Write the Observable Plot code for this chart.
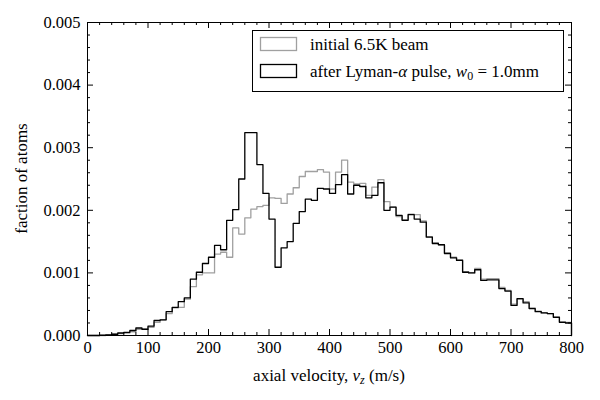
<!DOCTYPE html>
<html>
<head>
<meta charset="utf-8">
<script src="https://cdn.jsdelivr.net/npm/d3@7"></script>
<script src="https://cdn.jsdelivr.net/npm/@observablehq/plot@0.6"></script>
<style>
  html, body { margin: 0; padding: 0; background: #fff; }
  #chart svg { display: block; }
  #chart svg text, #chart svg tspan { font-family: 'Liberation Serif', 'DejaVu Serif', serif !important; }
  #chart svg g { font-variant: normal !important; font-variant-numeric: normal !important; }
</style>
</head>
<body>
<div id="chart"></div>
<script>
// Bin starts (m/s), bin width 10 m/s
const binStart = [0,10,20,30,40,50,60,70,80,90,100,110,120,130,140,150,160,170,180,190,
  200,210,220,230,240,250,260,270,280,290,300,310,320,330,340,350,360,370,380,390,
  400,410,420,430,440,450,460,470,480,490,500,510,520,530,540,550,560,570,580,590,
  600,610,620,630,640,650,660,670,680,690,700,710,720,730,740,750,760,770,780,790];
const binEnd = 800;

// initial 6.5K beam
const initialBeam = [0,0,0,0.00001,0.00002,0.00003,0.00004,0.00006,0.0001,0.0001,
  0.00013,0.00021,0.00025,0.00035,0.00044,0.00045,0.00058,0.00078,0.00097,0.001,
  0.001,0.0013,0.00133,0.00125,0.00172,0.00162,0.00188,0.00202,0.00206,0.00208,
  0.0022,0.00219,0.00211,0.00226,0.00236,0.00254,0.00262,0.00262,0.00265,0.00261,
  0.00234,0.00261,0.0028,0.00245,0.00242,0.00243,0.00224,0.00237,0.00249,0.00214,
  0.00205,0.0019,0.00185,0.00194,0.00193,0.00183,0.00158,0.00148,0.00145,0.00132,
  0.00125,0.00121,0.00102,0.001,0.00107,0.0009,0.00091,0.00091,0.00077,0.00072,
  0.0005,0.00058,0.00054,0.00044,0.00039,0.00036,0.00035,0.0003,0.00022,0.00021];

// after Lyman-alpha pulse, w0 = 1.0mm
const afterPulse = [0,0,0.000005,0.00001,0.00002,0.00004,0.00005,0.00008,0.00012,0.0001,
  0.00015,0.00024,0.00025,0.00038,0.00045,0.00054,0.0006,0.0009,0.00101,0.00115,
  0.00125,0.00144,0.00137,0.00184,0.00201,0.0025,0.00324,0.00324,0.00273,0.00227,
  0.00186,0.00109,0.0014,0.0015,0.00179,0.00198,0.00218,0.00216,0.00235,0.00234,
  0.00227,0.00241,0.00257,0.00226,0.0024,0.00238,0.0022,0.00224,0.00244,0.002,
  0.00205,0.00192,0.00184,0.00193,0.00186,0.00181,0.00157,0.00147,0.00145,0.00131,
  0.00124,0.0012,0.00101,0.001,0.00105,0.00088,0.00089,0.00089,0.00075,0.00071,
  0.00048,0.00059,0.00052,0.00043,0.00038,0.00036,0.00035,0.00029,0.00021,0.0002];

const xMajor = [0,100,200,300,400,500,600,700,800];
const xMinor = [20,40,60,80,120,140,160,180,220,240,260,280,320,340,360,380,420,440,460,480,520,540,560,580,620,640,660,680,720,740,760,780];
const yMajor = [0,0.001,0.002,0.003,0.004,0.005];
const yMinor = [0.0002,0.0004,0.0006,0.0008,0.0012,0.0014,0.0016,0.0018,0.0022,0.0024,0.0026,0.0028,0.0032,0.0034,0.0036,0.0038,0.0042,0.0044,0.0046,0.0048];

const seriesNames = ["initial 6.5K beam", "after Lyman-α pulse"];
const seriesColors = ["#a0a0a0", "#000000"];

function toSteps(values) {
  const pts = binStart.map((x, i) => ({x, y: values[i]}));
  pts.push({x: binEnd, y: values[values.length - 1]});
  pts.push({x: binEnd, y: 0});
  return pts;
}

const W = 600, H = 400;
const mL = 87, mR = 29, mT = 22, mB = 65;
const pw = W - mL - mR, ph = H - mT - mB;
const font = "Liberation Serif";

const svg = Plot.plot({
  width: W, height: H,
  marginLeft: mL, marginRight: mR, marginTop: mT, marginBottom: mB,
  style: {"font-family": font, "font-size": "16.5px", background: "#fff", color: "#000", overflow: "visible"},
  x: {domain: [0, 800]},
  y: {domain: [0, 0.005]},
  marks: [
    Plot.line(toSteps(initialBeam), {x: "x", y: "y", curve: "step-after", stroke: seriesColors[0], strokeWidth: 1.3}),
    Plot.line(toSteps(afterPulse), {x: "x", y: "y", curve: "step-after", stroke: seriesColors[1], strokeWidth: 1.3}),
    // inward ticks on all four sides
    Plot.tickX(xMajor, {x: d => d, insetTop: ph - 6, stroke: "#000"}),
    Plot.tickX(xMajor, {x: d => d, insetBottom: ph - 6, stroke: "#000"}),
    Plot.tickX(xMinor, {x: d => d, insetTop: ph - 3, stroke: "#000"}),
    Plot.tickX(xMinor, {x: d => d, insetBottom: ph - 3, stroke: "#000"}),
    Plot.tickY(yMajor, {y: d => d, insetRight: pw - 6, stroke: "#000"}),
    Plot.tickY(yMajor, {y: d => d, insetLeft: pw - 6, stroke: "#000"}),
    Plot.tickY(yMinor, {y: d => d, insetRight: pw - 3, stroke: "#000"}),
    Plot.tickY(yMinor, {y: d => d, insetLeft: pw - 3, stroke: "#000"}),
    Plot.axisX({ticks: xMajor, tickSize: 0, tickPadding: 6, tickFormat: d => String(d), label: null, fontSize: 16.5, fontFamily: font, fontVariant: "normal"}),
    Plot.axisY({ticks: yMajor, tickSize: 0, tickPadding: 7, tickFormat: d3.format(".3f"), label: null, fontSize: 16.5, fontFamily: font, fontVariant: "normal"}),
    Plot.frame({stroke: "#000", strokeWidth: 1})
  ]
});

document.getElementById("chart").appendChild(svg);
const s = d3.select(svg);

// axis labels
const xl = s.append("text")
  .attr("x", mL + pw / 2).attr("y", 381)
  .attr("text-anchor", "middle")
  .style("font-size", "17px").attr("fill", "#000");
xl.append("tspan").text("axial velocity, ");
xl.append("tspan").attr("font-style", "italic").text("v");
xl.append("tspan").attr("font-style", "italic").attr("font-size", "12px").attr("dy", 3).text("z");
xl.append("tspan").attr("dy", -3).text(" (m/s)");

s.append("text")
  .attr("transform", `translate(27,${mT + ph / 2}) rotate(-90)`)
  .attr("text-anchor", "middle")
  .style("font-size", "17px").attr("fill", "#000")
  .text("faction of atoms");

// legend
const lg = s.append("g").style("font-size", "17px").attr("text-anchor", "start");
lg.append("rect").attr("x", 252.5).attr("y", 30.5).attr("width", 311).attr("height", 61)
  .attr("fill", "#fff").attr("stroke", "#000").attr("stroke-width", 1);
const rows = [44, 71];
rows.forEach((cy, i) => {
  lg.append("rect").attr("x", 260.5).attr("y", cy - 6.5).attr("width", 36).attr("height", 13)
    .attr("fill", "none").attr("stroke", seriesColors[i]).attr("stroke-width", 1.3);
});
lg.append("text").attr("x", 310).attr("y", rows[0] + 6).attr("text-anchor", "start").attr("fill", "#000").text(seriesNames[0]);
const t2 = lg.append("text").attr("x", 310).attr("y", rows[1] + 6).attr("text-anchor", "start").attr("fill", "#000");
t2.append("tspan").text("after Lyman-");
t2.append("tspan").attr("font-style", "italic").text("α");
t2.append("tspan").text(" pulse, ");
t2.append("tspan").attr("font-style", "italic").text("w");
t2.append("tspan").attr("font-size", "12px").attr("dy", 3).text("0");
t2.append("tspan").attr("dy", -3).text(" = 1.0mm");
</script>
</body>
</html>
